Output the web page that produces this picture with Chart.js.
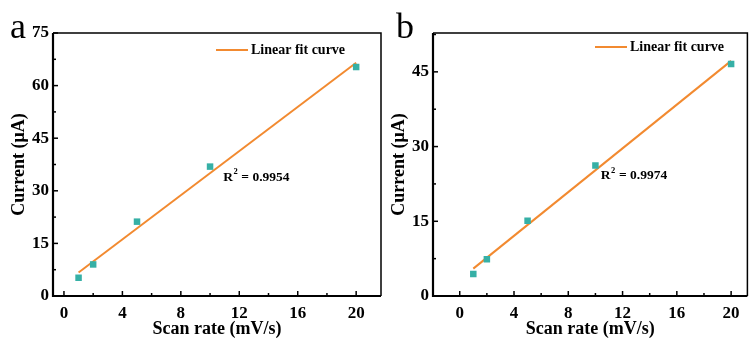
<!DOCTYPE html>
<html>
<head>
<meta charset="utf-8">
<script src="https://cdn.jsdelivr.net/npm/chart.js@4"></script>
<style>
  html, body { margin: 0; padding: 0; background: #fff; overflow: hidden; }
  body { width: 750px; height: 340px; position: relative; }
  .panel { position: absolute; top: 0; height: 340px; }
  #panelA { left: 0; width: 390px; }
  #panelB { left: 380px; width: 372px; }
</style>
</head>
<body>
<div class="panel" id="panelA"><canvas id="chartA"></canvas></div>
<div class="panel" id="panelB"><canvas id="chartB"></canvas></div>
<script>
const scanRates = [1, 2, 5, 10, 20];
const currentA = [5.2, 9.0, 21.2, 36.9, 65.3];
const currentB = [4.4, 7.4, 15.1, 26.2, 46.6];
const fitRates = [1, 20];
const fitA = [6.7, 66.5];
const fitB = [5.5, 47.2];
const xTicks = [0, 4, 8, 12, 16, 20];
const yTicksA = [0, 15, 30, 45, 60, 75];
const yTicksB = [0, 15, 30, 45];
const r2A = "0.9954";
const r2B = "0.9974";

const ORANGE = "#f28a30";
const TEAL = "#36b0a6";
const SERIF = "'Liberation Serif', 'Times New Roman', serif";

function toPoints(xs, ys) {
  return xs.map((x, i) => ({ x, y: ys[i] }));
}

// inward ticks, box frame, legend, R2 note and panel letter
const decorPlugin = {
  id: "decor",
  afterDraw(chart, args, opts) {
    const { ctx, chartArea: area, scales } = chart;
    const xs = scales.x, ys = scales.y;
    ctx.save();
    ctx.strokeStyle = "#000";

    // minor + major ticks
    ctx.lineWidth = 1.5;
    opts.xTicks.forEach((v, i) => {
      const px = xs.getPixelForValue(v);
      ctx.beginPath(); ctx.moveTo(px, area.bottom); ctx.lineTo(px, area.bottom - 5); ctx.stroke();
      if (i < opts.xTicks.length - 1) {
        const mx = xs.getPixelForValue((v + opts.xTicks[i + 1]) / 2);
        ctx.beginPath(); ctx.moveTo(mx, area.bottom); ctx.lineTo(mx, area.bottom - 3); ctx.stroke();
      }
    });
    opts.yTicks.forEach((v, i) => {
      const py = ys.getPixelForValue(v);
      ctx.beginPath(); ctx.moveTo(area.left, py); ctx.lineTo(area.left + 5, py); ctx.stroke();
      const step = i < opts.yTicks.length - 1 ? opts.yTicks[i + 1] - v : 0;
      if (step) {
        const my = ys.getPixelForValue(v + step / 2);
        ctx.beginPath(); ctx.moveTo(area.left, my); ctx.lineTo(area.left + 3, my); ctx.stroke();
      }
    });
    const lastY = opts.yTicks[opts.yTicks.length - 1];
    const half = (opts.yTicks[1] - opts.yTicks[0]) / 2;
    if (lastY + half < ys.max) {
      const my = ys.getPixelForValue(lastY + half);
      ctx.beginPath(); ctx.moveTo(area.left, my); ctx.lineTo(area.left + 3, my); ctx.stroke();
    }

    // frame
    ctx.lineWidth = 1.5;
    ctx.beginPath();
    ctx.moveTo(area.left, area.top); ctx.lineTo(area.right, area.top); ctx.lineTo(area.right, area.bottom);
    ctx.stroke();
    ctx.lineWidth = 2.2;
    ctx.beginPath();
    ctx.moveTo(area.left, area.top); ctx.lineTo(area.left, area.bottom); ctx.lineTo(area.right, area.bottom);
    ctx.stroke();

    // legend
    ctx.strokeStyle = ORANGE;
    ctx.lineWidth = 2;
    ctx.beginPath(); ctx.moveTo(opts.legendX, opts.legendY); ctx.lineTo(opts.legendX + 32, opts.legendY); ctx.stroke();
    ctx.fillStyle = "#000";
    ctx.font = "bold 14px " + SERIF;
    ctx.textBaseline = "middle";
    ctx.textAlign = "left";
    ctx.fillText("Linear fit curve", opts.legendX + 35, opts.legendY);

    // R^2 note
    ctx.font = "bold 13.5px " + SERIF;
    const rx = xs.getPixelForValue(opts.r2At[0]);
    const ry = ys.getPixelForValue(opts.r2At[1]);
    ctx.fillText("R", rx, ry);
    const rw = ctx.measureText("R").width;
    ctx.font = "bold 8.5px " + SERIF;
    ctx.fillText("2", rx + rw + 0.5, ry - 5);
    ctx.font = "bold 13.5px " + SERIF;
    ctx.fillText(" = " + opts.r2, rx + rw + 5, ry);

    // panel letter
    ctx.font = "36px " + SERIF;
    ctx.textBaseline = "alphabetic";
    ctx.fillText(opts.letter, opts.letterX, 38);
    ctx.restore();
  },
};

function makePanel(canvasId, values, fit, yTicks, yMax, xMin, xMax, padRight, extra) {
  return new Chart(document.getElementById(canvasId), {
    type: "scatter",
    data: {
      datasets: [
        {
          label: "Data",
          data: toPoints(scanRates, values),
          pointStyle: "rect",
          pointRadius: 4.6,
          pointBackgroundColor: TEAL,
          pointBorderWidth: 0,
          order: 0,
        },
        {
          label: "Linear fit curve",
          type: "line",
          data: toPoints(fitRates, fit),
          borderColor: ORANGE,
          borderWidth: 2,
          pointRadius: 0,
          showLine: true,
          order: 1,
        },
      ],
    },
    options: {
      responsive: true,
      maintainAspectRatio: false,
      animation: false,
      layout: { padding: { top: 33, right: padRight, left: 0, bottom: 0 } },
      plugins: {
        legend: { display: false },
        tooltip: { enabled: false },
        decor: { xTicks, yTicks, ...extra },
      },
      scales: {
        x: {
          type: "linear",
          min: xMin,
          max: xMax,
          afterBuildTicks: (scale) => { scale.ticks = xTicks.map((v) => ({ value: v })); },
          afterFit: (scale) => { scale.height = 44; },
          grid: { display: false, drawTicks: false },
          border: { display: false },
          ticks: { color: "#000", padding: 7, font: { family: SERIF, size: 17, weight: "bold" } },
          title: {
            display: true,
            text: "Scan rate (mV/s)",
            color: "#000",
            padding: { top: 0, bottom: 0 },
            font: { family: SERIF, size: 18, weight: "bold" },
          },
        },
        y: {
          type: "linear",
          min: 0,
          max: yMax,
          afterBuildTicks: (scale) => { scale.ticks = yTicks.map((v) => ({ value: v })); },
          afterFit: (scale) => { scale.width = 53; },
          grid: { display: false, drawTicks: false },
          border: { display: false },
          ticks: { color: "#000", padding: 4, font: { family: SERIF, size: 17, weight: "bold" } },
          title: {
            display: true,
            text: "Current (μA)",
            color: "#000",
            padding: { top: 9, bottom: 0 },
            font: { family: SERIF, size: 18, weight: "bold" },
          },
        },
      },
    },
    plugins: [decorPlugin],
  });
}

makePanel("chartA", currentA, fitA, yTicksA, 75, -0.75, 21.7, 9,
  { legendX: 216, legendY: 50, r2At: [10.9, 33.9], r2: r2A, letter: "a", letterX: 10 });
makePanel("chartB", currentB, fitB, yTicksB, 52.8, -1.97, 21.2, 1,
  { legendX: 215, legendY: 47, r2At: [10.4, 24.1], r2: r2B, letter: "b", letterX: 16 });
</script>
</body>
</html>
